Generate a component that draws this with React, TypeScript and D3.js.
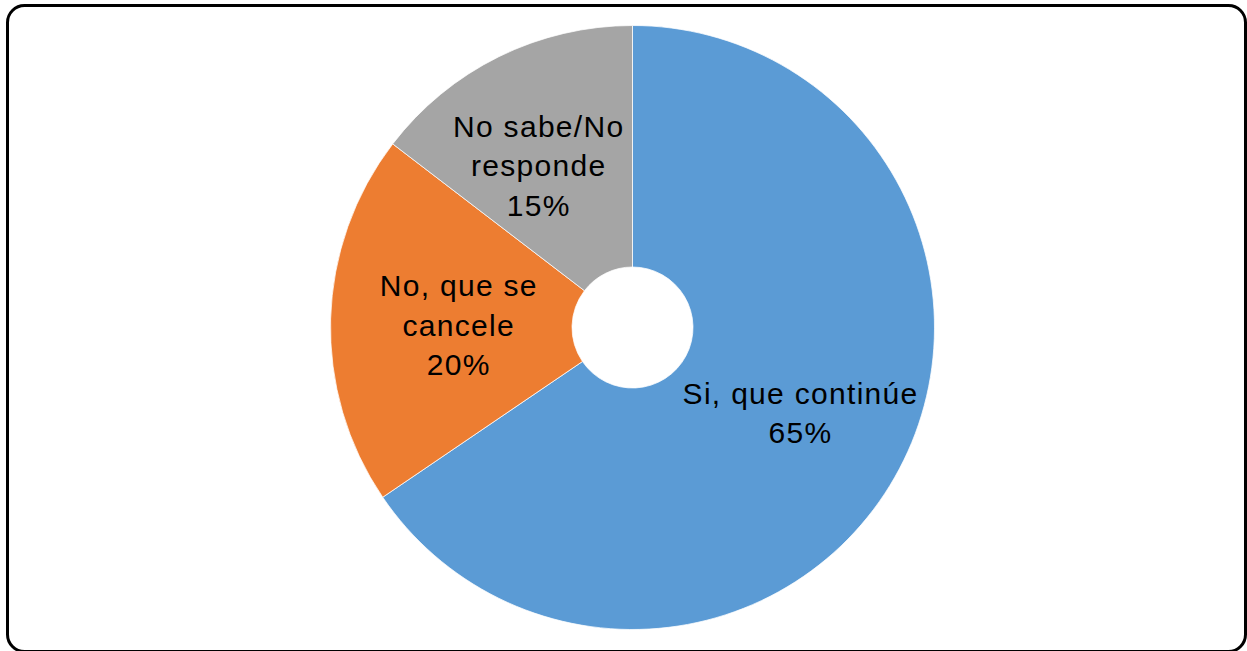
import React from "react";
import * as d3 from "d3";

const categories = ["Si, que continúe", "No, que se cancele", "No sabe/No responde"];
const values = [65.5, 19.9, 14.6];
const labelLines = [["Si, que continúe", "65%"], ["No, que se", "cancele", "20%"], ["No sabe/No", "responde", "15%"]];
const colors = ["#5B9BD5", "#ED7D31", "#A5A5A5"];
// layout nudges for the data labels (best-fit placement)
const labelNudge = [[5.7, -0.6], [8.5, 2.6], [-13.4, 2]];

const W = 1247;
const H = 651;

export default function App() {
  const cx = 632.5;
  const cy = 327.5;
  const outerR = 302;
  const innerR = 60.5;
  const labelR = 183;
  const fontSize = 30;
  const lineH = 39.5;

  const pie = d3.pie<number>().sort(null).value((d) => d)(values);
  const arc = d3.arc<d3.PieArcDatum<number>>().innerRadius(innerR).outerRadius(outerR);
  const labelArc = d3.arc<d3.PieArcDatum<number>>().innerRadius(labelR).outerRadius(labelR);

  return (
    <svg width={W} height={H} style={{ position: "absolute", left: 0, top: 0, background: "#fff" }}>
      <rect x={7.5} y={5.5} width={1238} height={646} rx={17} ry={17} fill="#fff" stroke="#000" strokeWidth={3} />
      <g transform={`translate(${cx},${cy})`}>
        {pie.map((p, i) => (
          <path key={categories[i]} d={arc(p) || ""} fill={colors[i]} stroke="#fff" strokeWidth={0.75} />
        ))}
        {pie.map((p, i) => {
          const [cx0, cy0] = labelArc.centroid(p);
          const lx = cx0 + labelNudge[i][0];
          const ly = cy0 + labelNudge[i][1];
          const lines = labelLines[i];
          const n = lines.length;
          const firstBaseline = ly - ((n - 1) * lineH) / 2 + fontSize * 0.358;
          return (
            <text key={"l" + i} textAnchor="middle" fontFamily="'Liberation Sans', Arial, sans-serif" fontSize={fontSize} letterSpacing={1.3} fill="#000">
              {lines.map((t, j) => (
                <tspan key={j} x={lx + 0.65} y={firstBaseline + j * lineH}>{t}</tspan>
              ))}
            </text>
          );
        })}
      </g>
    </svg>
  );
}
